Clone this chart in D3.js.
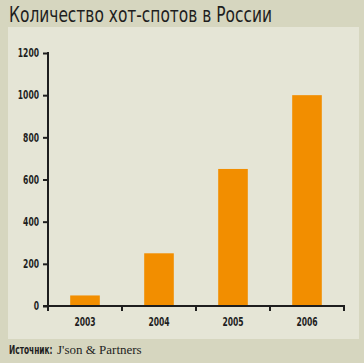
<!DOCTYPE html>
<html>
<head>
<meta charset="utf-8">
<script src="https://cdn.jsdelivr.net/npm/d3@7"></script>
<style>
  body { margin: 0; background: #d6d6bf; }
  svg { display: block; }
</style>
</head>
<body>
<div id="main"></div>
<script>
// data
var years = ["2003", "2004", "2005", "2006"];
var hotspots = [50, 250, 650, 1000];
var yTicks = [0, 200, 400, 600, 800, 1000, 1200];

var w = 364,
	h = 363;

var font = "'DejaVu Sans Condensed', 'Liberation Sans Narrow', sans-serif";

var svg = d3.select("#main")
	.append("svg")
	.attr("width", w)
	.attr("height", h);

// background + panel
svg.append("rect")
	.attr("width", w).attr("height", h)
	.attr("fill", "#d6d6bf");
svg.append("rect")
	.attr("x", 8).attr("y", 27)
	.attr("width", 351).attr("height", 312)
	.attr("fill", "#e5e5d6");

// title
svg.append("text")
	.attr("x", 9).attr("y", 22)
	.attr("font-family", font)
	.attr("font-size", 21)
	.attr("textLength", 263)
	.attr("lengthAdjust", "spacingAndGlyphs")
	.attr("fill", "#1e1e1e")
	.text("Количество хот-спотов в России");

// scales
var x = d3.scaleBand()
	.domain(years)
	.range([48, 344])
	.paddingInner(0.6)
	.paddingOuter(0.3);

var y = d3.scaleLinear()
	.domain([0, 1200])
	.range([306, 53]);

// bars
svg.selectAll("rect.bar")
	.data(hotspots)
	.enter()
	.append("rect")
	.attr("class", "bar")
	.attr("x", function(d, i) { return x(years[i]); })
	.attr("width", x.bandwidth())
	.attr("y", function(d) { return y(d); })
	.attr("height", function(d) { return y(0) - y(d); })
	.attr("fill", "#f28e00");

// y axis
var yAxis = svg.append("g")
	.attr("transform", "translate(48,0)")
	.call(d3.axisLeft(y).tickValues(yTicks).tickFormat(d3.format("d")).tickSize(5).tickPadding(4));
yAxis.select(".domain").remove();
yAxis.append("line")
	.attr("x1", 0).attr("x2", 0)
	.attr("y1", 52).attr("y2", 311)
	.attr("stroke", "#1e1e1e").attr("stroke-width", 2);

// x axis
var xAxis = svg.append("g")
	.attr("transform", "translate(0,306)")
	.call(d3.axisBottom(x).tickSize(0).tickPadding(12));
xAxis.select(".domain").remove();
xAxis.append("line")
	.attr("x1", 43).attr("x2", 345)
	.attr("y1", 0).attr("y2", 0)
	.attr("stroke", "#1e1e1e").attr("stroke-width", 2);
// boundary ticks between years
var bounds = [1, 2, 3, 4].map(function(k) { return 48 + x.step() * k; });
xAxis.selectAll("line.sep")
	.data(bounds)
	.enter()
	.append("line")
	.attr("class", "sep")
	.attr("x1", function(d) { return d; })
	.attr("x2", function(d) { return d; })
	.attr("y1", 0).attr("y2", 5)
	.attr("stroke", "#1e1e1e").attr("stroke-width", 2);

svg.selectAll(".tick line")
	.attr("stroke", "#1e1e1e").attr("stroke-width", 2);
svg.selectAll(".tick text")
	.attr("font-family", font)
	.attr("font-size", 11.5)
	.attr("font-weight", "bold")
	.attr("fill", "#1e1e1e")
	.attr("textLength", function(d) { return String(d).length * 5.3; })
	.attr("lengthAdjust", "spacingAndGlyphs");

// source
svg.append("text")
	.attr("transform", "translate(9,354) scale(0.72,1)")
	.attr("fill", "#1e1e1e")
	.attr("font-size", 11.5)
	.attr("font-family", font)
	.attr("font-weight", "bold")
	.text("Источник:");
svg.append("text")
	.attr("x", 57).attr("y", 354)
	.attr("fill", "#1e1e1e")
	.attr("font-family", "'Liberation Serif', serif")
	.attr("font-size", 13)
	.text("J'son & Partners");
</script>
</body>
</html>
